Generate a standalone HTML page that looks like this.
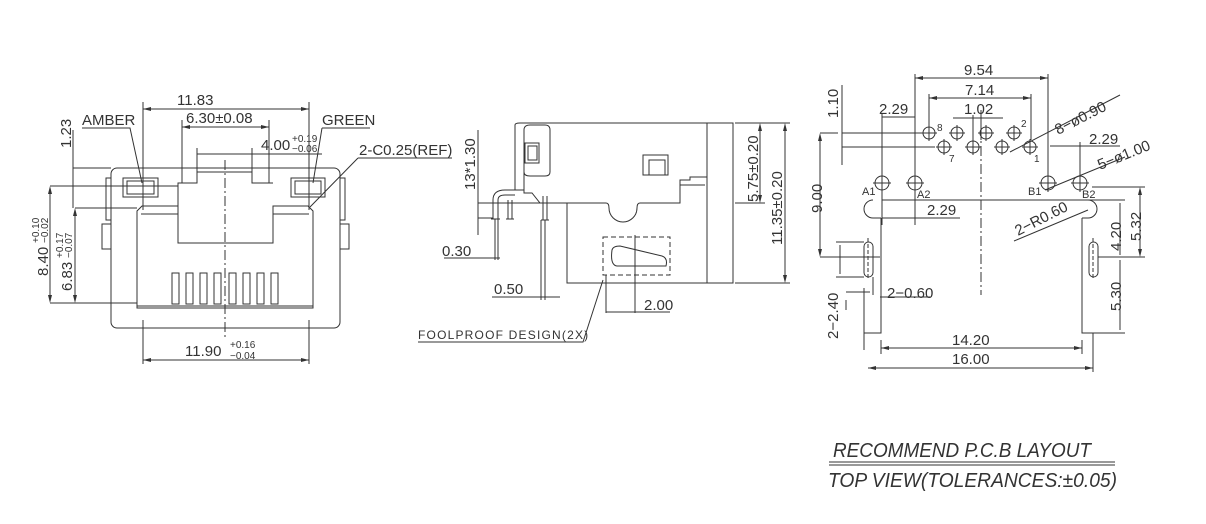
<!DOCTYPE html>
<html><head><meta charset="utf-8"><style>
html,body{margin:0;padding:0;background:#fff;width:1206px;height:524px;overflow:hidden}
svg text{font-family:"Liberation Sans",sans-serif;fill:#333}
</style></head><body>
<svg width="1206" height="524" viewBox="0 0 1206 524" xmlns="http://www.w3.org/2000/svg">
<g fill="none" stroke="#333" stroke-width="1">
<!-- LEFT VIEW -->
<rect x="111" y="168" width="229" height="160" rx="6"/>
<path d="M137 308 V211 L142 206 H178 V243 H273 V206 H308 L313 211 V308 Z"/>
<path d="M141 214 H178 M273 214 H309"/>
<path d="M137 306 H313" />
<path d="M178 243 V183 H197 V168 M252 168 V183 H273"/>
<path d="M197 172 H252"/>
<rect x="123" y="178" width="35" height="19"/><rect x="127" y="181" width="27" height="13"/>
<rect x="291" y="178" width="34" height="19"/><rect x="295" y="181" width="26" height="13"/>
<g>
<rect x="172" y="273" width="7" height="31"/><rect x="186" y="273" width="7" height="31"/><rect x="200" y="273" width="7" height="31"/><rect x="214" y="273" width="7" height="31"/><rect x="229" y="273" width="7" height="31"/><rect x="243" y="273" width="7" height="31"/><rect x="257" y="273" width="7" height="31"/><rect x="271" y="273" width="7" height="31"/>
</g>
<rect x="106" y="178" width="5" height="42"/><rect x="102" y="224" width="9" height="25"/>
<rect x="340" y="178" width="5" height="42"/><rect x="340" y="224" width="9" height="25"/>
<path d="M225 160 V340" stroke-dasharray="10 3 2 3"/>
<path d="M143 102 V210 M309 102 V210 M143 109 H309"/>
<path d="M182 120 V183 M269 120 V183 M182 127 H269"/>
<path d="M197 148 V168 M252 148 V168 M197 154 H322"/>
<path d="M73 168 H111 M73 186 H178 M73 130 V208"/>
<path d="M50 186 H106 M50 303 H137 M50 190 V300 M75 208 H137 M75 212 V300"/>
<path d="M143 320 V364 M309 320 V364 M143 360 H309"/>
<path d="M82 128 H130 L142 183 M322 128 H370 M322 128 L313 183 M358 158 H452 M358 158 L310 207"/>
<!-- MIDDLE VIEW -->
<path d="M515 125 Q515 123 520 123 H733 V283 H567 V203 H540 L532 193 H524 V190 H515 Z"/>
<path d="M707 123 V283"/>
<path d="M567 203 H606 Q609 203 609 208 A14 14 0 0 0 637 208 Q637 203 640 203 H680 V185 H705 M680 185 V180 H690 V177 H707"/>
<path d="M524 190 V130 Q524 125 530 125 H545 Q550 125 550 130 V172 Q550 176 545 176 H530 Q524 176 524 172"/>
<rect x="525" y="143" width="14" height="20"/><rect x="528" y="146" width="9" height="14"/>
<rect x="643" y="155" width="25" height="20"/><rect x="649" y="160" width="16" height="15"/>
<path d="M493 219 V200 Q493 190 505 190 H515 M498 219 V200 Q498 195 505 195 H515"/>
<path d="M508 200 V219 M512 200 V219 M543 196 V220 M547 196 V220 M491 219 H500 M506 219 H514 M541 220 H549"/>
<path d="M495 203 H560 L567 203"/>
<rect x="603" y="237" width="67" height="38" stroke-dasharray="5 3"/>
<path d="M612 250 Q610 265 617 266 H666 Q668 258 662 256 L620 246 Q613 246 612 250 Z"/>
<path d="M478 130 V235 M478 203 H497 M478 218 H493"/>
<path d="M444 258 H500 M495 219 V260 M498 219 V260"/>
<path d="M492 297 H560 M541 220 V300 M545 220 V300"/>
<path d="M606 275 V313 M635 235 V313 M606 312 H670"/>
<path d="M418 342 H583 L603 280"/>
<path d="M735 123 H765 M735 203 H765 M760 126 V200 M735 283 H790 M765 123 H790 M785 126 V280"/>
<!-- RIGHT VIEW -->
<path d="M881 218 V333 H864 V350 M1082 218 V333 H1093 V372"/>
<path d="M882 200 H1088 M873 218 H881 M1082 218 H1088 M873 200 A9 9 0 0 0 873 218 M1088 200 A9 9 0 0 1 1088 218"/>
<rect x="864" y="242" width="9" height="35" rx="4.5"/><rect x="1089" y="242" width="9" height="35" rx="4.5"/>
<path d="M868 238 V280 M1093 238 V280" stroke-dasharray="4 2"/>
<path d="M981 110 V295" stroke-dasharray="10 3 2 3"/>
<g>
<circle cx="929" cy="133" r="6"/><circle cx="957" cy="133" r="6"/><circle cx="986" cy="133" r="6"/><circle cx="1014" cy="133" r="6"/>
<circle cx="944" cy="147" r="6"/><circle cx="973" cy="147" r="6"/><circle cx="1002" cy="147" r="6"/><circle cx="1030" cy="147" r="6"/>
<circle cx="882" cy="183" r="7"/><circle cx="915" cy="183" r="7"/><circle cx="1048" cy="183" r="7"/><circle cx="1080" cy="183" r="7"/>
<path d="M921 133 H937 M929 125 V141 M949 133 H965 M957 125 V141 M978 133 H994 M986 125 V141 M1006 133 H1022 M1014 125 V141 M936 147 H952 M944 139 V155 M965 147 H981 M973 139 V155 M994 147 H1010 M1002 139 V155 M1022 147 H1038 M1030 139 V155 M873 183 H891 M882 174 V192 M906 183 H924 M915 174 V192 M1039 183 H1057 M1048 174 V192 M1071 183 H1089 M1080 174 V192"/>
</g>
<path d="M915 74 V183 M1048 74 V183 M915 78 H1048"/>
<path d="M929 94 V130 M1031 94 V140 M929 98 H1031"/>
<path d="M973 115 V140 M981 115 V140 M953 118 H1003"/>
<path d="M882 114 V175 M882 117 H915"/>
<path d="M1080 142 V175 M1050 146 H1120"/>
<path d="M882 190 V225 M915 190 V225 M882 218 H960"/>
<path d="M842 133 H925 M842 147 H935 M842 85 V165"/>
<path d="M820 133 H838 M820 257 H880 M820 136 V254"/>
<path d="M836 242 H864 M836 277 H864 M840 245 V274 M846 292 H870 M846 300 V310"/>
<path d="M864 288 V333 M873 277 V295 M880 297 H930"/>
<path d="M1092 187 H1145 M1088 200 H1125 M1120 203 V255 M1098 257 H1145 M1140 190 V254 M1120 260 V330 M1093 333 H1125"/>
<path d="M881 340 V354 M1082 340 V354 M881 348 H1082 M868 368 H1093"/>
<path d="M1010 152 L1120 95 M1045 190 L1125 157 M1014 241 L1088 210"/>
</g>
<g fill="#333" stroke="none">
<path d="M143 109 l8 -2 v4z M309 109 l-8 -2 v4z M182 127 l8 -2 v4z M269 127 l-8 -2 v4z M50 186 l-2 8 h4z M50 303 l-2 -8 h4z M75 208 l-2 8 h4z M75 303 l-2 -8 h4z M143 360 l8 -2 v4z M309 360 l-8 -2 v4z M915 78 l8 -2 v4z M1048 78 l-8 -2 v4z M929 98 l8 -2 v4z M1031 98 l-8 -2 v4z M881 348 l8 -2 v4z M1082 348 l-8 -2 v4z M868 368 l8 -2 v4z M1093 368 l-8 -2 v4z M760 123 l-2 8 h4z M760 203 l-2 -8 h4z M785 123 l-2 8 h4z M785 283 l-2 -8 h4z M820 133 l-2 8 h4z M820 257 l-2 -8 h4z M1140 187 l-2 8 h4z M1140 257 l-2 -8 h4z"/>
</g>
<g font-size="15">
<text x="177" y="105">11.83</text>
<text x="186" y="123">6.30±0.08</text>
<text x="261" y="150">4.00</text><text x="292" y="142" font-size="10">+0.19</text><text x="292" y="152" font-size="10">−0.06</text>
<text x="82" y="125">AMBER</text>
<text x="322" y="125">GREEN</text>
<text x="359" y="155">2-C0.25(REF)</text>
<text x="185" y="356">11.90</text><text x="230" y="348" font-size="10">+0.16</text><text x="230" y="359" font-size="10">−0.04</text>
<text transform="translate(71,148) rotate(-90)">1.23</text>
<text transform="translate(48,276) rotate(-90)">8.40</text><text transform="translate(39,243) rotate(-90)" font-size="10">+0.10</text><text transform="translate(48,243) rotate(-90)" font-size="10">−0.02</text>
<text transform="translate(72,291) rotate(-90)">6.83</text><text transform="translate(63,258) rotate(-90)" font-size="10">+0.17</text><text transform="translate(72,258) rotate(-90)" font-size="10">−0.07</text>
<text transform="translate(475,190) rotate(-90)">13*1.30</text>
<text x="442" y="256">0.30</text>
<text x="494" y="294">0.50</text>
<text x="644" y="310">2.00</text>
<text x="418" y="339" font-size="12" letter-spacing="1.2">FOOLPROOF DESIGN(2X)</text>
<text transform="translate(758,202) rotate(-90)">5.75±0.20</text>
<text transform="translate(782,245) rotate(-90)">11.35±0.20</text>
<text x="964" y="75">9.54</text>
<text x="965" y="95">7.14</text>
<text x="964" y="114">1.02</text>
<text x="879" y="114">2.29</text>
<text x="1089" y="144">2.29</text>
<text x="927" y="215">2.29</text>
<text transform="translate(1058,135) rotate(-27)">8−ø0.90</text>
<text transform="translate(1100,170) rotate(-22)">5−ø1.00</text>
<text transform="translate(1018,236) rotate(-27)">2−R0.60</text>
<text x="887" y="298">2−0.60</text>
<text x="952" y="345">14.20</text>
<text x="952" y="364">16.00</text>
<text transform="translate(838,118) rotate(-90)">1.10</text>
<text transform="translate(822,213) rotate(-90)">9.00</text>
<text transform="translate(838,339) rotate(-90)">2−2.40</text>
<text transform="translate(1121,251) rotate(-90)">4.20</text>
<text transform="translate(1141,241) rotate(-90)">5.32</text>
<text transform="translate(1121,311) rotate(-90)">5.30</text>
<text x="937" y="131" font-size="10">8</text><text x="1021" y="127" font-size="10">2</text>
<text x="949" y="162" font-size="10">7</text><text x="1034" y="162" font-size="10">1</text>
<text x="862" y="195" font-size="11">A1</text><text x="917" y="198" font-size="11">A2</text>
<text x="1028" y="195" font-size="11">B1</text><text x="1082" y="198" font-size="11">B2</text>
</g>
<g font-size="20" font-style="italic">
<text x="833" y="457" textLength="258" lengthAdjust="spacingAndGlyphs">RECOMMEND P.C.B LAYOUT</text>
<text x="828" y="487" textLength="289" lengthAdjust="spacingAndGlyphs">TOP VIEW(TOLERANCES:±0.05)</text>
</g>
<path d="M829 462 H1115 M829 465 H1115" stroke="#333" stroke-width="1"/>
</svg>
</body></html>
